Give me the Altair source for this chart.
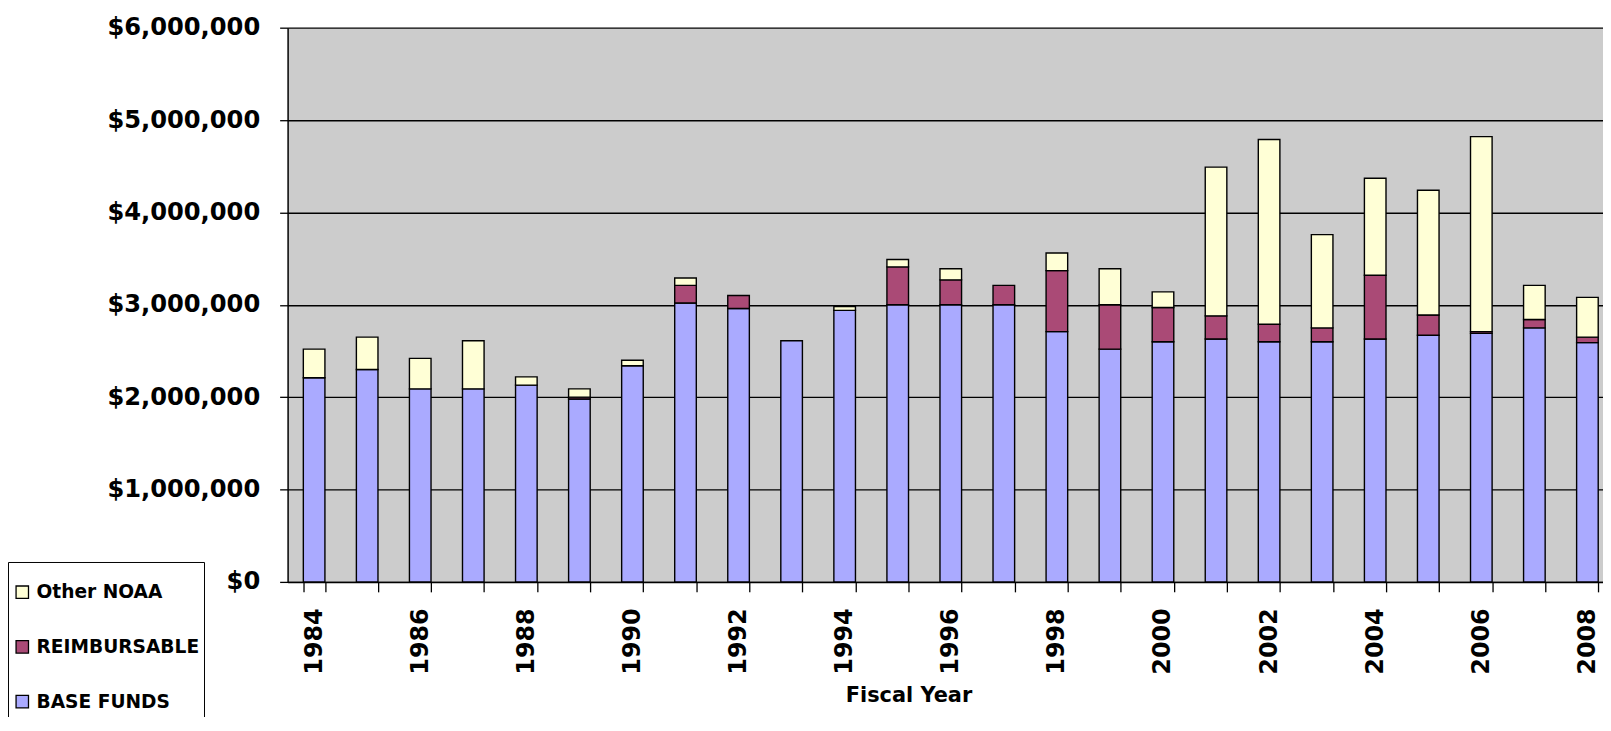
import altair as alt
import pandas as pd

years = list(range(1984, 2009))
base_funds = [2210000, 2300000, 2090000, 2090000, 2130000, 1980000, 2340000, 3020000,
              2960000, 2610000, 2940000, 3000000, 3000000, 3000000, 2710000, 2520000,
              2600000, 2630000, 2600000, 2600000, 2630000, 2670000, 2690000, 2750000, 2590000]
reimbursable = [0, 0, 0, 0, 0, 20000, 0, 190000,
                140000, 0, 0, 410000, 270000, 210000, 660000, 480000,
                370000, 250000, 190000, 150000, 690000, 220000, 20000, 90000, 60000]
other_noaa = [310000, 350000, 330000, 520000, 90000, 90000, 60000, 80000,
              0, 0, 40000, 80000, 120000, 0, 190000, 390000,
              170000, 1610000, 2000000, 1010000, 1050000, 1350000, 2110000, 370000, 430000]

series_names = ["Other NOAA", "REIMBURSABLE", "BASE FUNDS"]
series_colors = ["#FFFFD6", "#AA4A76", "#AAAAFF"]
y_ticks = [0, 1000000, 2000000, 3000000, 4000000, 5000000, 6000000]

# an extra, blank legend slot below the visible area keeps the legend box
# running past the bottom edge, as in the reference (it is clipped away)
legend_domain = series_names + ["\u00a0"]
legend_range = series_colors + ["white"]

rows = []
for i, yr in enumerate(years):
    for name, vals, order in (("BASE FUNDS", base_funds, 0),
                              ("REIMBURSABLE", reimbursable, 1),
                              ("Other NOAA", other_noaa, 2)):
        if vals[i] > 0:
            rows.append({"year": yr, "series": name, "value": vals[i], "order": order})
df = pd.DataFrame(rows)

FONT = "DejaVu Sans"

chart = alt.Chart(df).mark_bar(stroke="black", strokeWidth=1.4).encode(
    x=alt.X("year:O", title="Fiscal Year",
            scale=alt.Scale(range=[0, 1333], paddingInner=0.593, paddingOuter=0.2965),
            axis=alt.Axis(labelAngle=-90,
                          labelExpr="datum.value % 2 === 0 ? datum.label : ''",
                          labelOverlap=False, tickBand="extent", tickSize=10,
                          labelPadding=16, titleX=624, titleY=114,
                          titleBaseline="middle", titleAlign="center",
                          labelFontSize=24, titleFontSize=21, grid=False,
                          domainColor="black", tickColor="black",
                          domainWidth=1.5, tickWidth=1.3)),
    y=alt.Y("value:Q", stack="zero",
            scale=alt.Scale(domain=[0, 6000000], nice=False),
            axis=alt.Axis(values=y_ticks, format="$,.0f", title=None, grid=True,
                          gridColor="black", gridWidth=1.4, tickSize=8,
                          labelPadding=20, labelFontSize=24.3,
                          domainColor="black", tickColor="black",
                          domainWidth=1.5, tickWidth=1.3)),
    color=alt.Color("series:N",
                    scale=alt.Scale(domain=legend_domain, range=legend_range),
                    legend=alt.Legend(title="\u00a0", orient="none", legendX=-281, legendY=537,
                                      padding=4, fillColor="white", strokeColor="black",
                                      symbolType="square", symbolSize=156, symbolOffset=1,
                                      symbolStrokeColor="black", symbolStrokeWidth=1.3,
                                      labelFont=FONT, labelFontSize=18.7, labelFontWeight="bold",
                                      labelColor="black", labelOffset=5, rowPadding=35,
                                      labelLimit=400, titleFontSize=4, titlePadding=13)),
    order=alt.Order("order:Q", sort="ascending"),
).properties(
    width=1322, height=557,
    autosize=alt.AutoSizeParams(type="none"),
    padding={"left": 281, "top": 18, "right": 0, "bottom": 134},
    background="white",
).configure(font=FONT).configure_axis(
    labelFont=FONT, titleFont=FONT, labelFontWeight="bold", titleFontWeight="bold",
    labelColor="black", titleColor="black",
).configure_view(fill="#CCCCCC", stroke="transparent")

chart.save("out.html", embed_options={"renderer": "svg", "actions": False})
